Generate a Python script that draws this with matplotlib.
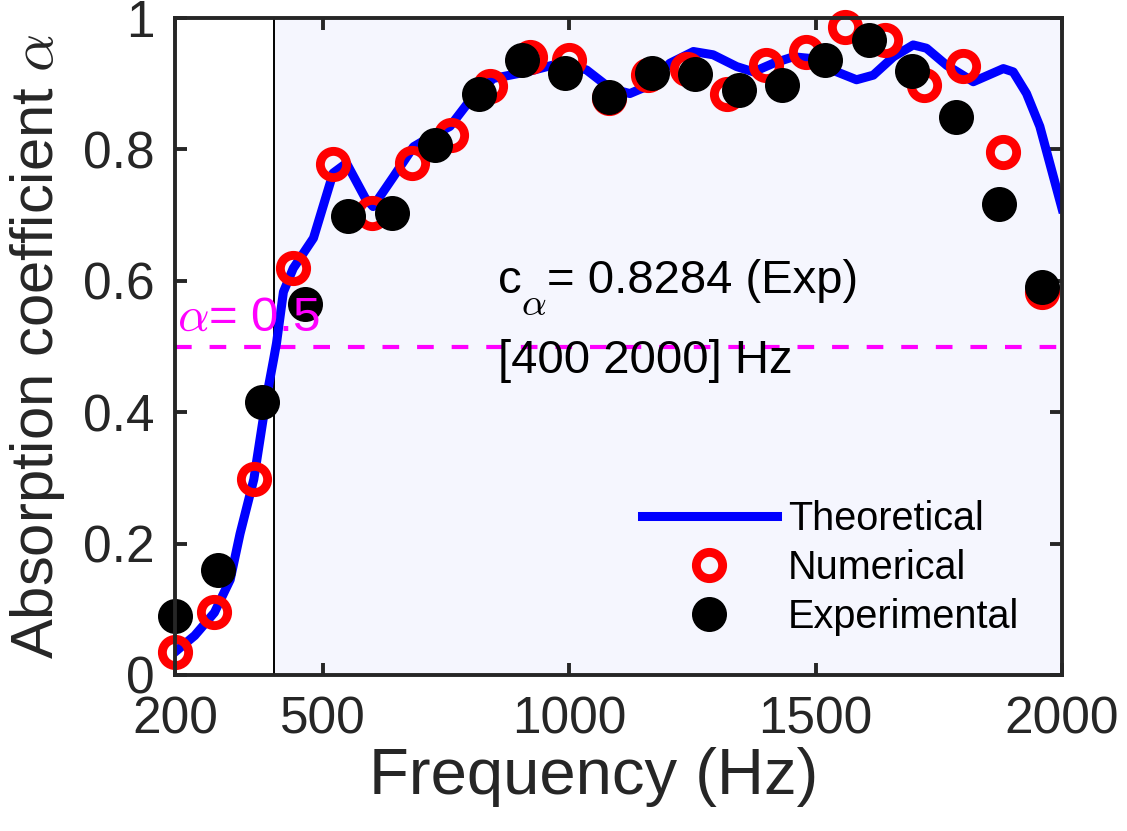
import matplotlib
matplotlib.use('Agg')
import matplotlib.pyplot as plt
from matplotlib.lines import Line2D

plt.rcParams['font.family'] = ['Liberation Sans', 'DejaVu Sans']
plt.rcParams['mathtext.fontset'] = 'cm'

# ---------------- data ----------------
freq_theory = [200, 240, 280, 312, 332, 360, 386, 400, 406, 420, 440, 481, 521, 548,
               586, 602, 643, 684, 720, 758, 799, 846, 914, 981, 1035, 1083, 1123,
               1164, 1204, 1252, 1292, 1340, 1374, 1414, 1455, 1495, 1543, 1583, 1617,
               1658, 1698, 1725, 1766, 1820, 1881, 1901, 1928, 1955, 2000]
alpha_theory = [0.035, 0.060, 0.095, 0.145, 0.215, 0.298, 0.424, 0.480, 0.505, 0.583,
                0.619, 0.665, 0.764, 0.779, 0.726, 0.713, 0.758, 0.804, 0.820, 0.835,
                0.875, 0.908, 0.918, 0.931, 0.921, 0.893, 0.885, 0.898, 0.931, 0.949,
                0.944, 0.926, 0.918, 0.931, 0.941, 0.938, 0.918, 0.906, 0.913, 0.941,
                0.959, 0.954, 0.928, 0.903, 0.923, 0.918, 0.885, 0.835, 0.710]

freq_num = [200, 280, 360, 440, 520, 600, 680, 760, 840, 920, 1000, 1080, 1160,
            1240, 1320, 1400, 1480, 1560, 1640, 1720, 1800, 1880, 1960]
alpha_num = [0.035, 0.096, 0.298, 0.619, 0.778, 0.703, 0.780, 0.822, 0.896, 0.941,
             0.936, 0.878, 0.913, 0.923, 0.885, 0.928, 0.949, 0.986, 0.967, 0.898,
             0.927, 0.796, 0.583]

freq_exp = [200, 288, 376, 464, 552, 640, 728, 816, 904, 992, 1080, 1168, 1256,
            1344, 1432, 1520, 1608, 1696, 1784, 1872, 1960]
alpha_exp = [0.090, 0.160, 0.415, 0.564, 0.698, 0.703, 0.806, 0.884, 0.936, 0.917,
             0.880, 0.917, 0.915, 0.890, 0.898, 0.936, 0.967, 0.919, 0.850, 0.717,
             0.591]

band = [400, 2000]
alpha_ref = 0.5
xticks = [200, 500, 1000, 1500, 2000]
yticks = [0, 0.2, 0.4, 0.6, 0.8, 1]
yticklabels = ['0', '0.2', '0.4', '0.6', '0.8', '1']
labels = ['Theoretical', 'Numerical', 'Experimental']

# ---------------- figure ----------------
W, H = 1127, 831
fig = plt.figure(figsize=(W / 100, H / 100), dpi=100)
ax = fig.add_axes([175 / W, 1 - 675 / H, 887 / W, 657 / H])

axcol = '#262626'

ax.axvspan(band[0], band[1], facecolor='#F5F6FE', edgecolor='black',
           linewidth=1.4, zorder=0)
ax.axhline(alpha_ref, color='#FF00FF', linewidth=3, dashes=(4, 4.3), zorder=1)

ax.plot(freq_theory, alpha_theory, color='#0000FF', linewidth=6.5, zorder=3,
        solid_joinstyle='round')
ax.plot(freq_num, alpha_num, linestyle='none', marker='o', markersize=18.9,
        markerfacecolor='none', markeredgecolor='#FF0000', markeredgewidth=6.4,
        zorder=4, clip_on=False)
ax.plot(freq_exp, alpha_exp, linestyle='none', marker='o', markersize=24,
        markerfacecolor='black', markeredgecolor='black', markeredgewidth=1.2,
        zorder=5, clip_on=False)

ax.set_xlim(200, 2000)
ax.set_ylim(0, 1)
ax.set_xticks(xticks)
ax.set_xticklabels([str(t) for t in xticks])
ax.set_yticks(yticks)
ax.set_yticklabels(yticklabels)

for s in ax.spines.values():
    s.set_linewidth(2.8)
    s.set_color(axcol)
    s.set_zorder(6)
ax.tick_params(direction='in', length=8.4, width=2.8, color=axcol,
               labelcolor=axcol, labelsize=37, pad=14.5,
               top=True, right=True)

ax.set_xlabel('Frequency (Hz)', fontsize=47, color=axcol, va='top')
ax.xaxis.set_label_coords(0.472, -0.110)
ax.set_ylabel(r'Absorption coefficient $\alpha$', fontsize=43, color=axcol)
ax.yaxis.set_label_coords(-0.122, 0.5)

# annotations
ax.text(204, 0.5236, r'$\alpha$= 0.5', color='#FF00FF', fontsize=35.5,
        ha='left', va='baseline', zorder=10)
ax.text(855, 0.582, 'c', color='black', fontsize=34, ha='left', va='baseline',
        zorder=10)
ax.text(902, 0.548, r'$\alpha$', color='black', fontsize=28, ha='left',
        va='baseline', zorder=10)
ax.text(955, 0.582, '= 0.8284 (Exp)', color='black', fontsize=34, ha='left',
        va='baseline', zorder=10)
ax.text(855, 0.4597, '[400 2000] Hz', color='black', fontsize=34, ha='left',
        va='baseline', zorder=10)

handles = [
    Line2D([], [], color='#0000FF', linewidth=6.5),
    Line2D([], [], linestyle='none', marker='o', markersize=18.9,
           markerfacecolor='none', markeredgecolor='#FF0000', markeredgewidth=6.4),
    Line2D([], [], linestyle='none', marker='o', markersize=24,
           markerfacecolor='black', markeredgecolor='black', markeredgewidth=1.2),
]
fig.legend(handles, labels, loc='center left',
           bbox_to_anchor=(642 / W, 1 - 568 / H), frameon=False,
           fontsize=28.5, handlelength=3.4, handletextpad=0.28,
           labelspacing=0.27, borderpad=0, borderaxespad=0, numpoints=1)

fig.savefig('out.png', dpi=100)
